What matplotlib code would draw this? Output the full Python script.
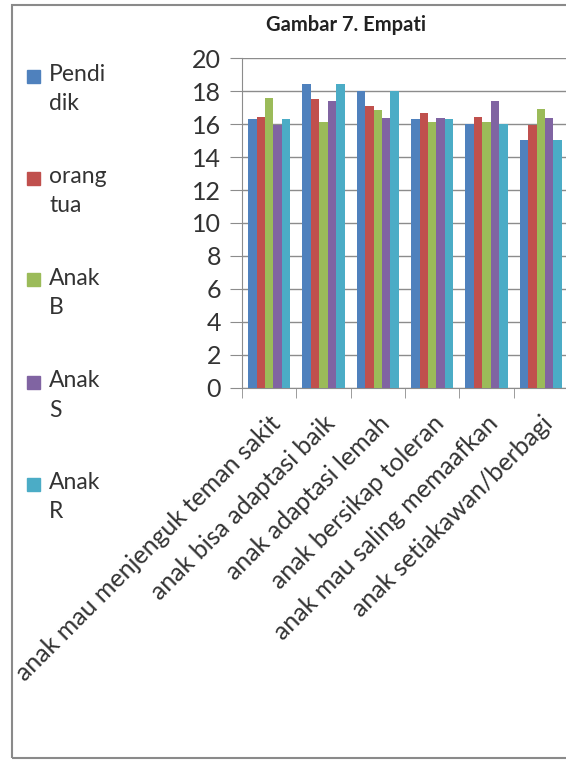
import matplotlib.pyplot as plt
import numpy as np
from matplotlib.patches import Rectangle

plt.rcParams['font.family'] = ['Lato', 'DejaVu Sans']

categories = ['anak mau menjenguk teman sakit', 'anak bisa adaptasi baik',
              'anak adaptasi lemah', 'anak bersikap toleran',
              'anak mau saling memaafkan', 'anak setiakawan/berbagi']
series_labels = ['Pendi\ndik', 'orang\ntua', 'Anak\nB', 'Anak\nS', 'Anak\nR']
pendidik = [16.3, 18.45, 18.0, 16.3, 16.0, 15.05]
orang_tua = [16.45, 17.5, 17.1, 16.65, 16.45, 15.95]
anak_b = [17.6, 16.15, 16.85, 16.15, 16.15, 16.9]
anak_s = [15.95, 17.4, 16.4, 16.4, 17.4, 16.4]
anak_r = [16.3, 18.45, 18.0, 16.3, 16.0, 15.05]
colors = ['#4F81BD', '#C0504D', '#9BBB59', '#8064A2', '#4BACC6']
y_ticks = [0, 2, 4, 6, 8, 10, 12, 14, 16, 18, 20]

W, H = 566, 760
fig = plt.figure(figsize=(W / 100, H / 100), dpi=100)
ax = fig.add_axes([242 / W, 1 - 387.7 / H, 326 / W, (387.7 - 58.3) / H])

txt = '#333333'
grid = '#8c8c8c'
x = np.arange(len(categories))
w = 0.155
for i, vals in enumerate([pendidik, orang_tua, anak_b, anak_s, anak_r]):
    ax.bar(x + (i - 2) * w, vals, width=w, color=colors[i], zorder=3)

ax.set_xlim(-0.5, len(categories) - 0.5)
ax.set_ylim(0, 20)
ax.set_yticks(y_ticks)
ax.yaxis.grid(True, color=grid, linewidth=1.0, zorder=0)
ax.set_xticks(x)
ax.set_xticklabels(categories, rotation=45, ha='right', rotation_mode='anchor',
                   fontsize=18, color=txt)
ax.set_xticks(np.arange(-0.5, len(categories)), minor=True)
ax.tick_params(axis='x', which='major', length=0, pad=17)
ax.tick_params(axis='x', which='minor', length=7, color=grid, direction='out')
ax.tick_params(axis='y', length=9, color=grid, labelsize=18, labelcolor=txt, pad=6)
for s in ['top', 'right']:
    ax.spines[s].set_visible(False)
for s in ['left', 'bottom']:
    ax.spines[s].set_color(grid)

fig.text(346 / W, 1 - 25 / H, 'Gambar 7. Empati', ha='center', va='center',
         fontsize=14.5, fontweight='bold', color='#222222')

# legend on the left, square next to the first line of each label
for i, lab in enumerate(series_labels):
    yc = 76 + i * 102
    fig.patches.append(Rectangle((27 / W, 1 - (yc + 6.5) / H), 13 / W, 13 / H,
                                 transform=fig.transFigure, color=colors[i]))
    fig.text(49 / W, 1 - (yc - 12) / H, lab, ha='left', va='top', fontsize=16.5,
             color=txt, linespacing=1.5)

# outer frame
fig.patches.append(Rectangle((12 / W, 1 - 758 / H), 600 / W, 753 / H,
                             transform=fig.transFigure, fill=False,
                             edgecolor='#8a8a8a', linewidth=1.5))

fig.savefig('out.png', dpi=100)
